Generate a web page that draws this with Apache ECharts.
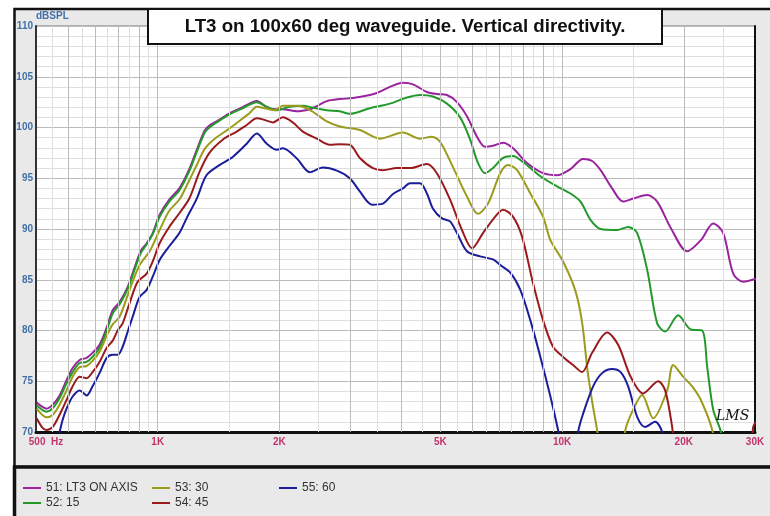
<!DOCTYPE html>
<html>
<head>
<meta charset="utf-8">
<title>LT3 vertical directivity</title>
<script src="https://cdn.jsdelivr.net/npm/echarts@6/dist/echarts.min.js"></script>
<style>
  html, body { margin: 0; padding: 0; background: #fff; }
  #chart { width: 770px; height: 516px; }
</style>
</head>
<body>
<div id="chart"></div>
<script>
"use strict";

// [Hz, dBSPL]
const onAxis = [
  [502,72.9],[513,72.6],[531,72.3],[550,72.7],[572,73.6],[595,75.1],[616,76.3],[641,77.1],[667,77.3],[690,77.8],
  [718,78.6],[748,80.3],[774,82.0],[805,82.8],[843,84.3],[880,86.4],[910,87.9],[939,88.6],[972,89.6],[1011,91.4],
  [1068,92.9],[1131,94.0],[1197,95.9],[1249,97.8],[1307,99.7],[1342,100.2],[1399,100.6],[1505,101.4],[1623,102.0],
  [1758,102.6],[1861,102.0],[1948,101.8],[2039,101.8],[2208,101.6],[2376,101.8],[2475,102.1],[2620,102.6],[2820,102.8],
  [3039,102.9],[3347,103.2],[3483,103.4],[3752,104.0],[4040,104.4],[4277,104.25],[4632,103.5],[4902,103.3],[5191,103.2],
  [5496,102.5],[5818,101.1],[6159,99.1],[6447,98.1],[6748,98.2],[7145,98.5],[7565,97.95],[8192,96.5],[8976,95.5],
  [9718,95.3],[10489,95.9],[11271,96.9],[11866,96.7],[12450,95.8],[13298,94.0],[14157,92.7],[14988,93.0],[16231,93.35],
  [17185,92.7],[18570,90.1],[20385,87.8],[22041,88.9],[23648,90.55],[25031,89.6],[26503,85.6],[28052,84.8],[30150,85.1]
];
const deg15 = [
  [502,72.6],[531,72.0],[550,72.35],[572,73.35],[595,74.8],[616,75.9],[641,76.8],[667,76.9],[690,77.4],[718,78.3],
  [748,80.0],[774,81.7],[805,82.6],[843,84.1],[880,86.2],[910,87.7],[939,88.5],[972,89.5],[1011,91.2],[1068,92.7],
  [1131,93.8],[1197,95.7],[1249,97.6],[1307,99.5],[1342,100.0],[1399,100.5],[1505,101.3],[1623,101.9],[1758,102.5],
  [1861,102.05],[1970,101.7],[2119,102.05],[2285,102.15],[2419,101.95],[2620,101.7],[2820,101.6],[2985,101.35],
  [3347,101.9],[3752,102.35],[4133,102.95],[4453,103.2],[4794,103.05],[5191,102.35],[5596,101.0],[5925,98.8],
  [6195,96.5],[6447,95.5],[6748,96.0],[7145,97.0],[7565,97.2],[8007,96.6],[8837,95.2],[9718,94.2],[10489,93.5],
  [11106,92.7],[11758,90.9],[12450,90.0],[13682,89.9],[14568,90.2],[15335,89.6],[16231,86.0],[17185,80.7],[17986,79.9],
  [19366,81.5],[20817,80.1],[22209,80.0],[22852,76.4],[23648,72.2],[24709,70.0],[25500,66.5]
];
const deg30 = [
  [502,72.3],[531,71.45],[550,71.7],[572,72.7],[595,74.1],[616,75.45],[641,76.4],[667,76.5],[690,77.0],[718,77.9],
  [748,79.5],[774,80.6],[805,81.35],[852,84.0],[902,86.45],[955,87.8],[1011,89.9],[1068,91.8],[1131,92.9],[1197,94.8],
  [1249,96.3],[1307,97.9],[1384,98.9],[1505,99.9],[1623,100.9],[1686,101.4],[1758,102.05],[1840,101.9],[1948,101.7],
  [2039,102.15],[2208,102.15],[2285,102.05],[2419,101.55],[2620,100.6],[2820,100.1],[3161,99.75],[3543,98.9],
  [4040,99.5],[4453,98.9],[4766,99.1],[4992,98.6],[5372,96.1],[5818,93.2],[6195,91.5],[6558,92.5],[7032,95.5],
  [7350,96.3],[7740,95.8],[8347,93.5],[8976,91.2],[9357,88.9],[10057,86.8],[10770,84.0],[11207,80.8],[11598,75.6],
  [12208,70.2],[12800,66.5],[13900,66.5],[14340,70.2],[14988,72.2],[15776,73.65],[16800,71.35],[18194,74.1],
  [18821,76.6],[19926,75.45],[20978,74.5],[22041,73.15],[23512,70.2],[24300,66.5]
];
const deg45 = [
  [502,71.35],[519,70.4],[531,70.2],[550,70.5],[572,71.7],[595,73.15],[616,74.5],[641,75.45],[667,75.3],[690,75.9],
  [718,76.9],[748,78.3],[774,79.0],[796,80.0],[819,80.7],[852,82.7],[892,84.8],[939,85.6],[972,86.8],[1011,88.6],
  [1068,90.2],[1131,91.55],[1197,93.0],[1268,95.6],[1342,97.5],[1448,98.8],[1568,99.6],[1660,100.25],[1758,100.9],
  [1819,100.8],[1926,100.5],[2039,101.0],[2158,100.5],[2285,99.6],[2475,98.9],[2663,98.3],[2820,98.35],[2985,98.3],
  [3161,97.0],[3405,96.0],[3605,95.8],[3904,96.0],[4206,96.0],[4632,96.4],[4902,95.5],[5285,92.9],[5654,89.9],
  [5987,88.1],[6374,89.6],[6826,91.2],[7145,91.9],[7565,91.2],[7962,89.25],[8477,84.65],[8976,81.0],[9497,78.4],
  [10057,77.4],[10646,76.6],[11207,75.9],[11866,77.8],[12922,79.8],[13760,78.6],[14777,75.45],[15866,73.8],
  [17284,75.0],[17986,74.1],[18716,70.5],[19300,66.5],[28800,66.5],[29694,70.5],[30150,71.0]
];
const deg60 = [
  [502,68.5],[540,68.0],[565,69.2],[572,70.0],[582,71.2],[595,72.3],[616,73.5],[641,74.1],[667,73.6],[690,74.5],
  [718,75.8],[748,77.3],[774,77.6],[796,77.6],[819,78.4],[843,79.9],[867,81.35],[902,83.3],[939,84.0],[972,85.3],
  [1011,86.95],[1068,88.3],[1131,89.6],[1180,91.1],[1249,93.0],[1320,95.3],[1421,96.3],[1533,97.1],[1660,98.4],
  [1758,99.4],[1861,98.4],[1970,97.8],[2039,97.95],[2208,96.95],[2376,95.6],[2561,96.05],[2774,95.75],[2985,95.0],
  [3161,93.7],[3386,92.4],[3605,92.5],[3816,93.45],[4040,94.0],[4206,94.5],[4453,94.5],[4632,93.5],[4794,92.0],
  [5046,91.05],[5285,90.75],[5496,89.6],[5818,87.8],[6273,87.3],[6748,87.0],[7032,86.45],[7446,85.7],[7883,84.0],
  [8347,81.0],[8837,77.4],[9357,73.5],[9774,70.2],[10200,66.5],[10700,66.5],[10956,70.0],[11271,71.8],[11934,74.5],
  [12559,75.8],[13298,76.2],[13956,75.9],[14568,74.5],[15335,71.5],[16047,70.5],[16990,71.0],[17683,70.0],[18300,66.5]
];

const seriesNames = ["51: LT3 ON AXIS", "52: 15", "53: 30", "54: 45", "55: 60"];
const seriesData = [onAxis, deg15, deg30, deg45, deg60];
const seriesColors = ["#9a239e", "#22992a", "#9b9b1c", "#991b1e", "#1b1d99"];

// frequency axis labels and grid
const tickFreqs = [500, 1000, 2000, 5000, 10000, 20000, 30000];
const tickLabels = ["500  Hz", "1K", "2K", "5K", "10K", "20K", "30K"];
const majorGrid = [600, 700, 800, 900, 1000, 2000, 3000, 4000, 5000, 6000, 7000, 8000, 9000, 10000, 20000];
const minorGrid = [550, 650, 750, 850, 950, 1500, 2500, 3500, 4500, 5500, 6500, 7500, 8500, 9500, 15000, 25000];

const chart = echarts.init(document.getElementById("chart"));

const FONT = "Liberation Sans";
const LABEL_RED = "#c2346c";
const gridLines = [];
for (const f of minorGrid) gridLines.push({ xAxis: f, lineStyle: { color: "#dedede" } });
for (const f of majorGrid) gridLines.push({ xAxis: f, lineStyle: { color: "#bcbcbc" } });
// tick labels ride on invisible lines at the labelled frequencies
tickFreqs.forEach((f, i) => {
  gridLines.push({
    xAxis: f,
    lineStyle: { color: "rgba(0,0,0,0)" },
    label: {
      show: true,
      formatter: i === 0 ? "{a|" + tickLabels[i] + "}" : tickLabels[i],
      rich: { a: { padding: [0, 0, 0, 20], color: LABEL_RED, fontSize: 10, fontWeight: "bold", fontFamily: FONT } },
    },
  });
});

const legendCommon = {
  orient: "vertical",
  icon: "rect",
  itemWidth: 18,
  itemHeight: 2,
  itemGap: 3,
  padding: 0,
  selectedMode: false,
  textStyle: { fontSize: 12, color: "#333", fontFamily: FONT, lineHeight: 12 },
};

/** @type {echarts.EChartsOption} */
const options = {
  animation: false,
  backgroundColor: "#fff",
  grid: {
    left: 36, top: 26, width: 719, height: 406,
    show: true, backgroundColor: "#fff", borderColor: "#777", borderWidth: 1,
  },
  xAxis: {
    type: "log",
    logBase: 10,
    min: 500,
    max: 30000,
    axisLine: { show: true, lineStyle: { color: "#111", width: 3 } },
    axisTick: { show: false },
    axisLabel: { show: false },
    splitLine: { show: false },
  },
  yAxis: [
    {
      type: "value",
      min: 70,
      max: 110,
      interval: 5,
      name: "dBSPL",
      nameLocation: "end",
      nameGap: 5,
      nameTextStyle: { align: "left", color: "#4070a8", fontSize: 10, fontWeight: "bold", fontFamily: FONT },
      axisLine: { show: true, lineStyle: { color: "#333", width: 2 } },
      axisTick: { show: false },
      axisLabel: { color: "#4070a8", fontSize: 10, fontWeight: "bold", fontFamily: FONT, margin: 3 },
      splitLine: { show: true, lineStyle: { color: "#bcbcbc" } },
      minorTick: { show: false, splitNumber: 5 },
      minorSplitLine: { show: true, lineStyle: { color: "#dedede" } },
    },
    {
      type: "value",
      min: 70,
      max: 110,
      position: "right",
      axisLine: { show: true, lineStyle: { color: "#111", width: 2 } },
      axisTick: { show: false },
      axisLabel: { show: false },
      splitLine: { show: false },
    },
  ],
  legend: [
    { ...legendCommon, data: seriesNames.slice(0, 2), left: 23, top: 482 },
    { ...legendCommon, data: seriesNames.slice(2, 4), left: 152, top: 482 },
    { ...legendCommon, data: seriesNames.slice(4), left: 279, top: 482 },
  ],
  series: [
    {
      name: "grid",
      type: "line",
      data: [],
      silent: true,
      z: 1,
      markLine: {
        silent: true,
        animation: false,
        symbol: ["none", "none"],
        lineStyle: { type: "solid", width: 1 },
        label: {
          show: false,
          position: "start",
          distance: 5,
          color: LABEL_RED,
          fontSize: 10,
          fontWeight: "bold",
          fontFamily: FONT,
        },
        data: gridLines,
      },
    },
    ...seriesNames.map((name, i) => ({
      name,
      type: "line",
      data: seriesData[i],
      showSymbol: false,
      symbol: "none",
      smooth: 0.3,
      clip: true,
      z: 3,
      color: seriesColors[i],
      lineStyle: { color: seriesColors[i], width: 2 },
    })),
  ],
  graphic: [
    {
      type: "rect", z: -10,
      shape: { x: 14.5, y: 9, width: 800, height: 458 },
      style: { fill: "#e9e9e9", stroke: "#111", lineWidth: 2.5 },
    },
    {
      type: "rect", z: -10,
      shape: { x: 14.5, y: 467, width: 800, height: 70 },
      style: { fill: "#e9e9e9", stroke: "#111", lineWidth: 3.5 },
    },
    {
      type: "rect", z: 100,
      shape: { x: 148, y: 9, width: 514, height: 35 },
      style: { fill: "#fff", stroke: "#111", lineWidth: 2 },
    },
    {
      type: "text", z: 101, x: 405, y: 27,
      style: {
        text: "LT3 on 100x60 deg waveguide. Vertical directivity.",
        fill: "#111",
        font: 'bold 18.7px "Liberation Sans"',
        align: "center", verticalAlign: "middle",
        textAlign: "center", textVerticalAlign: "middle",
      },
    },
    {
      type: "text", z: 101, x: 716, y: 416,
      style: {
        text: "LMS",
        fill: "#111",
        font: 'italic 14px "DejaVu Serif"',
        verticalAlign: "middle", textVerticalAlign: "middle",
      },
    },
  ],
};

chart.setOption(options);
</script>
</body>
</html>
